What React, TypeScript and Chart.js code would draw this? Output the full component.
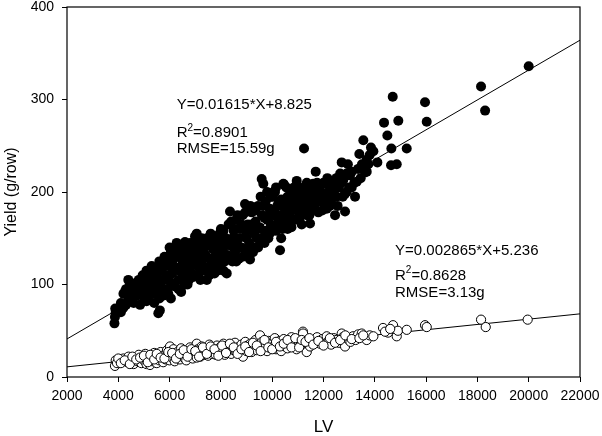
import React, { useEffect, useRef } from "react";
import { Chart, registerables } from "chart.js";

Chart.register(...registerables);

// Filled circles: [LV, Yield (g/row)]
const filledPoints: [number, number][] = [
  [3850, 58], [3870, 65], [3880, 74], [3900, 70], [4100, 80], [4200, 90], [4260, 92], [4390, 105],
  [4300, 78], [4400, 85], [4500, 95], [4550, 82], [4600, 100], [4700, 88], [4750, 97], [4800, 105],
  [4850, 78], [4900, 92], [4950, 110], [5000, 85], [5050, 100], [5100, 115], [5150, 95], [5200, 88],
  [5250, 105], [5300, 120], [5350, 98], [5400, 80], [5450, 110], [5500, 92], [5560, 69], [5600, 125],
  [5620, 72], [5650, 102], [5700, 115], [5750, 88], [5800, 130], [5850, 108], [5900, 95], [5950, 120],
  [6000, 140], [6020, 103], [6050, 85], [6100, 112], [6150, 128], [6200, 98], [6277, 145], [6300, 118],
  [6350, 105], [6400, 132], [6450, 92], [6500, 125], [6550, 110], [6600, 146], [6650, 120], [6700, 100],
  [6750, 135], [6800, 115], [6850, 128], [6900, 108], [6991, 152], [7000, 122], [7057, 155], [7100, 135],
  [7150, 112], [7200, 140], [7250, 125], [7300, 148], [7350, 118], [7400, 132], [7450, 105], [7500, 142],
  [7550, 128], [7600, 155], [7650, 120], [7700, 138], [7750, 112], [7800, 150], [7850, 130], [7900, 145],
  [7950, 122], [8000, 160], [8050, 138], [8100, 115], [8150, 148], [8227, 112], [8250, 132], [8300, 165],
  [8355, 179], [8400, 142], [8450, 125], [8500, 158], [8550, 135], [8600, 170], [8650, 148], [8700, 128],
  [8750, 160], [8800, 140], [8850, 175], [8940, 187], [8950, 152], [9000, 135], [9050, 165], [9100, 145],
  [9135, 127], [9200, 178], [9250, 158], [9300, 140], [9350, 168], [9400, 150], [9450, 185], [9500, 162],
  [9550, 145], [9591, 214], [9600, 175], [9654, 209], [9700, 158], [9750, 190], [9800, 170], [9850, 150],
  [9900, 182], [9950, 165], [10000, 195], [10044, 200], [10050, 175], [10110, 200], [10150, 158], [10200, 185],
  [10250, 170], [10305, 137], [10350, 192], [10400, 160], [10434, 209], [10461, 208], [10500, 180], [10550, 165],
  [10600, 195], [10650, 175], [10700, 188], [10750, 162], [10800, 200], [10850, 182], [10900, 170], [10956, 212],
  [11000, 190], [11085, 173], [11100, 198], [11150, 180], [11241, 247], [11250, 205], [11300, 188], [11350, 175],
  [11400, 200], [11475, 166], [11500, 192], [11603, 209], [11650, 185], [11697, 222], [11700, 198], [11800, 178],
  [11850, 205], [11900, 190], [12000, 210], [12050, 195], [12125, 209], [12125, 182], [12200, 200], [12300, 188],
  [12383, 195], [12450, 175], [12500, 215], [12600, 205], [12710, 232], [12773, 213], [12840, 198], [12840, 179],
  [12900, 220], [13035, 218], [13100, 205], [13229, 195], [13295, 211], [13397, 241], [13553, 256], [13620, 221],
  [13685, 235], [13685, 222], [13800, 240], [13944, 244], [14100, 232], [14360, 275], [14489, 261], [14645, 247],
  [14633, 229], [14699, 303], [14855, 230], [14917, 277], [15245, 247], [15958, 297], [16024, 276], [18142, 314],
  [18300, 288], [20000, 336],
  [4650, 92], [5050, 90], [5300, 95], [5550, 100], [5800, 105], [6100, 125], [6300, 130], [6500, 112],
  [6700, 122], [6900, 130], [7100, 120], [7300, 130], [7500, 118], [7700, 128], [7900, 135], [8100, 140],
  [8300, 145], [8500, 140], [8700, 150], [8900, 162], [9100, 160], [9300, 155], [9500, 150], [9700, 172],
  [9900, 160], [10100, 178], [10300, 175], [10500, 190], [10700, 178], [10900, 195], [11100, 185], [11300, 198],
  [11500, 180], [11700, 188], [11900, 200], [12100, 195], [12300, 205], [12500, 195], [12700, 210], [13000, 205],
  [4100, 70], [4200, 75], [4300, 95], [4450, 100], [4500, 88], [4600, 80], [4700, 102], [4800, 90],
  [4900, 100], [5000, 108], [5100, 82], [5150, 105], [5250, 112], [5350, 90], [5400, 118], [5500, 108],
  [5600, 85], [5650, 118], [5700, 95], [5850, 122], [5900, 110], [5950, 90], [6050, 135], [6150, 100],
  [6200, 118], [6250, 138], [6350, 95], [6400, 115], [6450, 140], [6550, 130], [6600, 100], [6650, 138],
  [6750, 105], [6800, 145], [6850, 112], [6950, 140], [7000, 110], [7050, 145], [7150, 128], [7200, 105],
  [7250, 150], [7350, 140], [7400, 115], [7450, 150], [7550, 110], [7650, 145], [7700, 120], [7800, 138],
  [7850, 115], [7950, 155], [8000, 128], [8100, 158], [8150, 125], [8200, 150], [8350, 130], [8400, 168],
  [8450, 150], [8550, 160], [8600, 125], [8650, 175], [8750, 140], [8800, 165], [8850, 130], [8950, 178],
  [9000, 150], [9050, 140], [9150, 185], [9200, 165], [9250, 135], [9350, 180], [9400, 160], [9450, 140],
  [9550, 195], [9600, 150], [9650, 185], [9700, 145], [9800, 200], [9850, 175], [9900, 155], [9950, 195],
  [10050, 160], [10150, 205], [10200, 165], [10250, 190], [10350, 150], [10400, 185], [10500, 170], [10550, 205],
  [10600, 160], [10650, 195], [10750, 185], [10800, 170], [10850, 205], [10950, 180], [11050, 205], [11150, 165],
  [11200, 195], [11350, 210], [11400, 185], [11450, 175], [11550, 205], [11600, 190], [11750, 210], [11800, 195],
  [11950, 180], [12000, 190], [12150, 215], [12250, 185], [12350, 210], [12400, 200], [12550, 185], [12650, 220],
  [12750, 195], [12900, 200], [12950, 230], [13100, 222], [13200, 210], [13350, 225], [13450, 215], [13500, 230],
  [13750, 230], [13850, 248],
];

// Open circles: [LV, Yield (g/row)]
const openPoints: [number, number][] = [
  [3870, 12], [3900, 18], [3950, 15], [4200, 20], [4350, 16], [4400, 22], [4500, 18], [4600, 14],
  [4650, 21], [4750, 17], [4800, 24], [4900, 15], [4950, 20], [5000, 18], [5050, 25], [5100, 14],
  [5150, 21], [5200, 19], [5236, 13], [5300, 23], [5350, 17], [5400, 26], [5450, 20], [5500, 15],
  [5550, 22], [5600, 18], [5650, 27], [5700, 20], [5750, 16], [5800, 24], [5850, 19], [5900, 29],
  [5950, 22], [6000, 18], [6016, 33], [6050, 25], [6100, 21], [6150, 30], [6200, 17], [6250, 26],
  [6300, 22], [6350, 28], [6400, 19], [6450, 31], [6500, 24], [6550, 21], [6600, 27], [6650, 18],
  [6700, 29], [6750, 23], [6800, 32], [6850, 25], [6900, 20], [6950, 28], [7000, 24], [7057, 36],
  [7057, 21], [7100, 30], [7150, 26], [7200, 22], [7250, 33], [7300, 27], [7350, 24], [7400, 31],
  [7450, 28], [7500, 23], [7550, 35], [7600, 29], [7650, 25], [7700, 32], [7750, 27], [7800, 24],
  [7850, 34], [7900, 30], [7950, 26], [8000, 33], [8050, 28], [8100, 36], [8150, 24], [8200, 31],
  [8250, 27], [8300, 35], [8350, 30], [8400, 25], [8450, 33], [8500, 29], [8550, 37], [8600, 27],
  [8650, 32], [8700, 30], [8750, 26], [8800, 35], [8860, 22], [8900, 31], [8950, 38], [9000, 28],
  [9050, 34], [9100, 30], [9150, 36], [9200, 27], [9250, 33], [9300, 31], [9350, 40], [9400, 29],
  [9450, 35], [9525, 45], [9550, 32], [9600, 38], [9650, 30], [9700, 36], [9750, 33], [9800, 28],
  [9850, 39], [9900, 34], [9950, 31], [10000, 37], [10050, 33], [10100, 42], [10150, 30], [10200, 36],
  [10250, 34], [10300, 39], [10350, 28], [10400, 35], [10450, 41], [10500, 33], [10550, 37], [10600, 31],
  [10650, 38], [10700, 35], [10750, 43], [10800, 33], [10850, 39], [10900, 36], [10950, 30], [11000, 41],
  [11050, 37], [11100, 34], [11200, 49], [11203, 47], [11250, 39], [11345, 27], [11400, 36], [11475, 33],
  [11550, 40], [11650, 37], [11750, 43], [11865, 36], [11950, 41], [12050, 38], [12125, 44], [12200, 39],
  [12300, 35], [12400, 42], [12500, 40], [12600, 37], [12710, 47], [12750, 43], [12840, 33], [12950, 41],
  [13050, 38], [13150, 44], [13250, 40], [13350, 46], [13490, 47], [13600, 43], [13685, 40], [13800, 45],
  [13944, 44], [14321, 53], [14516, 48], [14711, 56], [14855, 44], [14900, 50], [15245, 51], [15958, 56],
  [16024, 54], [18142, 62], [18325, 54], [19960, 62],
  [4000, 20], [4100, 15], [4250, 18], [4450, 14], [4550, 22], [4700, 19], [4850, 21], [5000, 23],
  [5150, 16], [5250, 24], [5400, 19], [5500, 25], [5650, 21], [5800, 20], [5950, 27], [6100, 26],
  [6250, 20], [6400, 25], [6550, 29], [6700, 22], [6850, 30], [7000, 28], [7150, 22], [7300, 32],
  [7450, 25], [7600, 33], [7750, 30], [7900, 23], [8050, 34], [8200, 26], [8350, 36], [8500, 32],
  [8650, 25], [8800, 30], [8950, 33], [9100, 27], [9250, 37], [9400, 34], [9550, 28], [9700, 40],
  [9850, 32], [10000, 30], [10150, 38], [10300, 33], [10450, 36], [10600, 40], [10750, 32], [10900, 42],
  [11050, 32], [11150, 40], [11300, 38], [11450, 42], [11600, 35], [11800, 39], [12000, 34], [12250, 42],
  [12450, 37], [12650, 40], [12850, 45], [13100, 41], [13400, 42], [13550, 45], [14400, 49], [14600, 52],
];

const xTicks = [2000, 4000, 6000, 8000, 10000, 12000, 14000, 16000, 18000, 20000, 22000];
const yTicks = [0, 100, 200, 300, 400];

// Regression fits shown on the chart
const fitFilled = { slope: 0.01615, intercept: 8.825 };
const fitOpen = { slope: 0.002865, intercept: 5.236 };

// Annotation blocks anchored at data coordinates (left edge, line centers)
const annFilled = { x: 6277, lines: [294.4, 263.8, 246.5], eq: "Y=0.01615*X+8.825", r2: "=0.8901", rmse: "RMSE=15.59g" };
const annOpen = { x: 14789, lines: [136.4, 109.7, 90.8], eq: "Y=0.002865*X+5.236", r2: "=0.8628", rmse: "RMSE=3.13g" };

const FONT = '"Liberation Sans", Arial, Helvetica, sans-serif';

const framePlugin = {
  id: "frameAndText",
  afterDatasetsDraw(chart: any) {
    const { ctx, chartArea: a, scales } = chart;
    const xs = scales.x;
    const ys = scales.y;
    ctx.save();
    ctx.strokeStyle = "#000";
    ctx.lineWidth = 1.2;
    ctx.strokeRect(a.left, a.top, a.right - a.left, a.bottom - a.top);
    ctx.fillStyle = "#000";
    ctx.textBaseline = "middle";
    ctx.textAlign = "left";
    for (const ann of [annFilled, annOpen]) {
      const x0 = xs.getPixelForValue(ann.x);
      const [y1, y2, y3] = ann.lines.map((v: number) => ys.getPixelForValue(v));
      ctx.font = `15px ${FONT}`;
      ctx.fillText(ann.eq, x0, y1);
      ctx.fillText("R", x0, y2);
      const wR = ctx.measureText("R").width;
      ctx.font = `10px ${FONT}`;
      ctx.fillText("2", x0 + wR, y2 - 5);
      const w2 = ctx.measureText("2").width;
      ctx.font = `15px ${FONT}`;
      ctx.fillText(ann.r2, x0 + wR + w2, y2);
      ctx.fillText(ann.rmse, x0, y3);
    }
    ctx.restore();
  },
};

function fitLine(fit: { slope: number; intercept: number }) {
  const x0 = xTicks[0];
  const x1 = xTicks[xTicks.length - 1];
  return [
    { x: x0, y: fit.slope * x0 + fit.intercept },
    { x: x1, y: fit.slope * x1 + fit.intercept },
  ];
}

export default function App() {
  const ref = useRef<HTMLCanvasElement | null>(null);
  useEffect(() => {
    if (!ref.current) return;
    const chart = new Chart(ref.current, {
      type: "scatter",
      data: {
        datasets: [
          {
            label: "filled",
            data: filledPoints.map(([x, y]) => ({ x, y })),
            backgroundColor: "#000",
            borderColor: "#000",
            borderWidth: 0,
            pointRadius: 5,
            order: 1,
          },
          {
            label: "open",
            data: openPoints.map(([x, y]) => ({ x, y })),
            backgroundColor: "#fff",
            borderColor: "#000",
            borderWidth: 1,
            pointRadius: 4.6,
            order: 2,
          },
          {
            type: "line",
            label: "fit filled",
            data: fitLine(fitFilled),
            borderColor: "#000",
            borderWidth: 1,
            pointRadius: 0,
            showLine: true,
            fill: false,
            order: 3,
          },
          {
            type: "line",
            label: "fit open",
            data: fitLine(fitOpen),
            borderColor: "#000",
            borderWidth: 1,
            pointRadius: 0,
            showLine: true,
            fill: false,
            order: 4,
          },
        ] as any,
      },
      options: {
        animation: false,
        responsive: false,
        layout: { padding: { left: 0, right: 22, top: 7, bottom: 0 } },
        plugins: { legend: { display: false }, tooltip: { enabled: false } },
        scales: {
          x: {
            type: "linear",
            min: xTicks[0],
            max: xTicks[xTicks.length - 1],
            afterBuildTicks: (s: any) => {
              s.ticks = xTicks.map((v) => ({ value: v }));
            },
            afterFit: (s: any) => {
              s.height = 59;
              s.paddingLeft = 0;
              s.paddingRight = 0;
            },
            grid: { display: true, drawOnChartArea: false, drawTicks: true, tickLength: 5, color: "#000", lineWidth: 1 },
            border: { display: false },
            ticks: {
              color: "#000",
              font: { family: FONT, size: 14, lineHeight: 1.2 },
              padding: 6,
              maxRotation: 0,
              autoSkip: false,
              callback: (v: any) => String(v),
            },
            title: {
              display: true,
              text: "LV",
              color: "#000",
              font: { family: FONT, size: 17, lineHeight: 1 },
              padding: { top: 0, bottom: 0 },
            },
          },
          y: {
            type: "linear",
            min: yTicks[0],
            max: yTicks[yTicks.length - 1],
            afterBuildTicks: (s: any) => {
              s.ticks = yTicks.map((v) => ({ value: v }));
            },
            afterFit: (s: any) => {
              s.width = 67;
              s.paddingTop = 0;
              s.paddingBottom = 0;
            },
            grid: { display: true, drawOnChartArea: false, drawTicks: true, tickLength: 5, color: "#000", lineWidth: 1 },
            border: { display: false },
            ticks: {
              color: "#000",
              font: { family: FONT, size: 14, lineHeight: 1 },
              padding: 8,
              callback: (v: any) => String(v),
            },
            title: {
              display: true,
              text: "Yield (g/row)",
              color: "#000",
              font: { family: FONT, size: 16, lineHeight: 1 },
              padding: { top: 4, bottom: 0 },
            },
          },
        },
      },
      plugins: [framePlugin],
    });
    return () => chart.destroy();
  }, []);

  return (
    <div style={{ position: "absolute", left: 0, top: 0, width: 602, height: 436, background: "#fff" }}>
      <canvas ref={ref} width={602} height={436} style={{ display: "block" }} />
    </div>
  );
}
